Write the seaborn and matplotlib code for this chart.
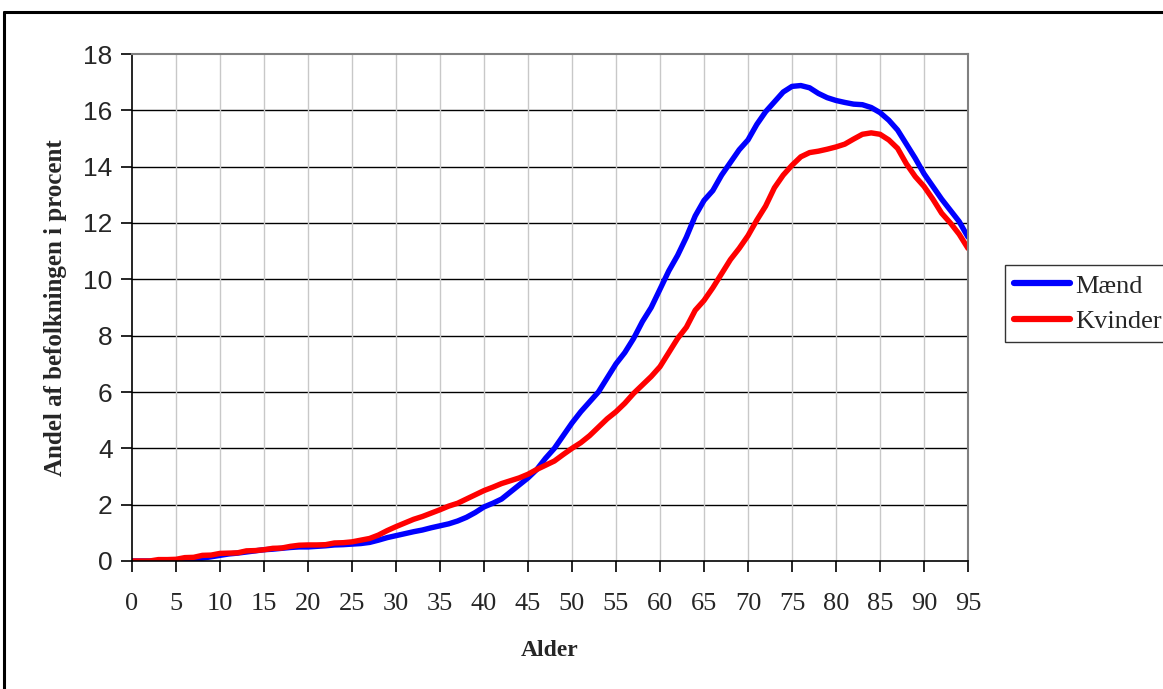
import numpy as np
import pandas as pd
import matplotlib
matplotlib.use("Agg")
import matplotlib.pyplot as plt
import seaborn as sns
from matplotlib.lines import Line2D

# Data (andel i procent pr. alder)
ages = list(range(0, 96))
maend = [0, 0, 0, 0, 0, 0, 0.02, 0.06, 0.1, 0.15,
         0.2, 0.25, 0.28, 0.32, 0.36, 0.4, 0.42, 0.45, 0.48, 0.5,
         0.5, 0.52, 0.54, 0.57, 0.58, 0.6, 0.62, 0.66, 0.74, 0.83,
         0.9, 0.97, 1.04, 1.1, 1.18, 1.25, 1.32, 1.42, 1.55, 1.72,
         1.92, 2.05, 2.2, 2.45, 2.7, 2.95, 3.25, 3.65, 4.0, 4.45,
         4.9, 5.3, 5.65, 6.0, 6.5, 7.0, 7.4, 7.9, 8.5, 9.0,
         9.65, 10.3, 10.85, 11.5, 12.25, 12.8, 13.15, 13.7, 14.15, 14.6,
         14.95, 15.5, 15.95, 16.3, 16.65, 16.85, 16.88, 16.8, 16.6, 16.45,
         16.35, 16.28, 16.22, 16.2, 16.1, 15.92, 15.65, 15.3, 14.8, 14.3,
         13.75, 13.3, 12.85, 12.45, 12.05, 11.5]
kvinder = [0, 0, 0, 0.05, 0.05, 0.06, 0.12, 0.13, 0.2, 0.21,
           0.27, 0.28, 0.29, 0.36, 0.37, 0.4, 0.45, 0.46, 0.52, 0.56,
           0.57, 0.57, 0.58, 0.64, 0.65, 0.68, 0.74, 0.8, 0.92, 1.08,
           1.22, 1.35, 1.48, 1.58, 1.7, 1.82, 1.95, 2.05, 2.2, 2.35,
           2.5, 2.62, 2.75, 2.85, 2.95, 3.08, 3.25, 3.4, 3.55, 3.78,
           4.0, 4.2, 4.45, 4.75, 5.05, 5.3, 5.6, 5.95, 6.25, 6.55,
           6.9, 7.4, 7.9, 8.3, 8.9, 9.25, 9.7, 10.2, 10.7, 11.1,
           11.55, 12.1, 12.6, 13.25, 13.7, 14.05, 14.35, 14.5, 14.55, 14.62,
           14.7, 14.8, 14.98, 15.15, 15.2, 15.15, 14.95, 14.65, 14.1, 13.65,
           13.3, 12.85, 12.35, 12.0, 11.6, 11.1]
series_names = ["Mænd", "Kvinder"]
x_ticks = list(range(0, 100, 5))
y_ticks = list(range(0, 20, 2))

df = pd.DataFrame({
    "Alder": ages * 2,
    "Andel": maend + kvinder,
    "Køn": [series_names[0]] * len(ages) + [series_names[1]] * len(ages),
})

sns.set_style("white")
plt.rcParams["font.family"] = ["Liberation Serif", "DejaVu Serif"]

fig = plt.figure(figsize=(11.63, 6.89), dpi=100)
ax = fig.add_axes([132 / 1163, 1 - 561 / 689, (968 - 132) / 1163, (561 - 54) / 689])

sns.lineplot(data=df, x="Alder", y="Andel", hue="Køn",
             palette={"Mænd": "#0000ff", "Kvinder": "#ff0000"},
             linewidth=3.9, ax=ax, legend=False)

ax.set_xlim(0, 95)
ax.set_ylim(0, 18)
ax.set_xticks(x_ticks)
ax.set_yticks(y_ticks)

# gridlines like the old spreadsheet chart
for y in y_ticks[1:-1]:
    ax.axhline(y, color="#000000", linewidth=1.0, zorder=0)
for x in x_ticks[1:-1]:
    ax.axvline(x, color="#c8c8c8", linewidth=1.0, zorder=0)

for side in ["top", "right"]:
    ax.spines[side].set_color("#808080")
    ax.spines[side].set_linewidth(1.5)
for side in ["left", "bottom"]:
    ax.spines[side].set_color("#000000")
    ax.spines[side].set_linewidth(1.2)

ax.tick_params(axis="both", direction="out", length=8, width=1.2, color="black",
               left=True, bottom=True)
ax.tick_params(axis="x", pad=15)
ax.tick_params(axis="y", pad=6)
for lab in ax.get_yticklabels():
    lab.set_fontfamily("Liberation Sans")
    lab.set_fontsize(19)
for lab in ax.get_xticklabels():
    lab.set_fontfamily("Liberation Serif")
    lab.set_fontsize(19)

ax.set_xlabel("Alder", fontsize=17, fontweight="bold", labelpad=18)
ax.set_ylabel("Andel af befolkningen i procent", fontsize=18, fontweight="bold", labelpad=12)

handles = [Line2D([0], [0], color="#0000ff", linewidth=4.5, solid_capstyle="round"),
           Line2D([0], [0], color="#ff0000", linewidth=4.5, solid_capstyle="round")]
leg = fig.legend(handles, series_names, loc="upper left",
                 bbox_to_anchor=(1005 / 1163, 1 - 265 / 689),
                 fontsize=19, frameon=True, fancybox=False, handlelength=2.1,
                 handletextpad=0.2, borderpad=0.35, labelspacing=0.45, borderaxespad=0)
leg.get_frame().set_edgecolor("black")
leg.get_frame().set_linewidth(1.0)

# outer chart frame (cut off at the right and bottom in the reference)
fig.add_artist(Line2D([3.5 / 1163, 3.5 / 1163], [0, 1 - 11.5 / 689], color="black", linewidth=2.2))
fig.add_artist(Line2D([3.5 / 1163, 1], [1 - 11.5 / 689, 1 - 11.5 / 689], color="black", linewidth=2.2))

fig.savefig("out.png", dpi=100)
print("Saved: out.png")
